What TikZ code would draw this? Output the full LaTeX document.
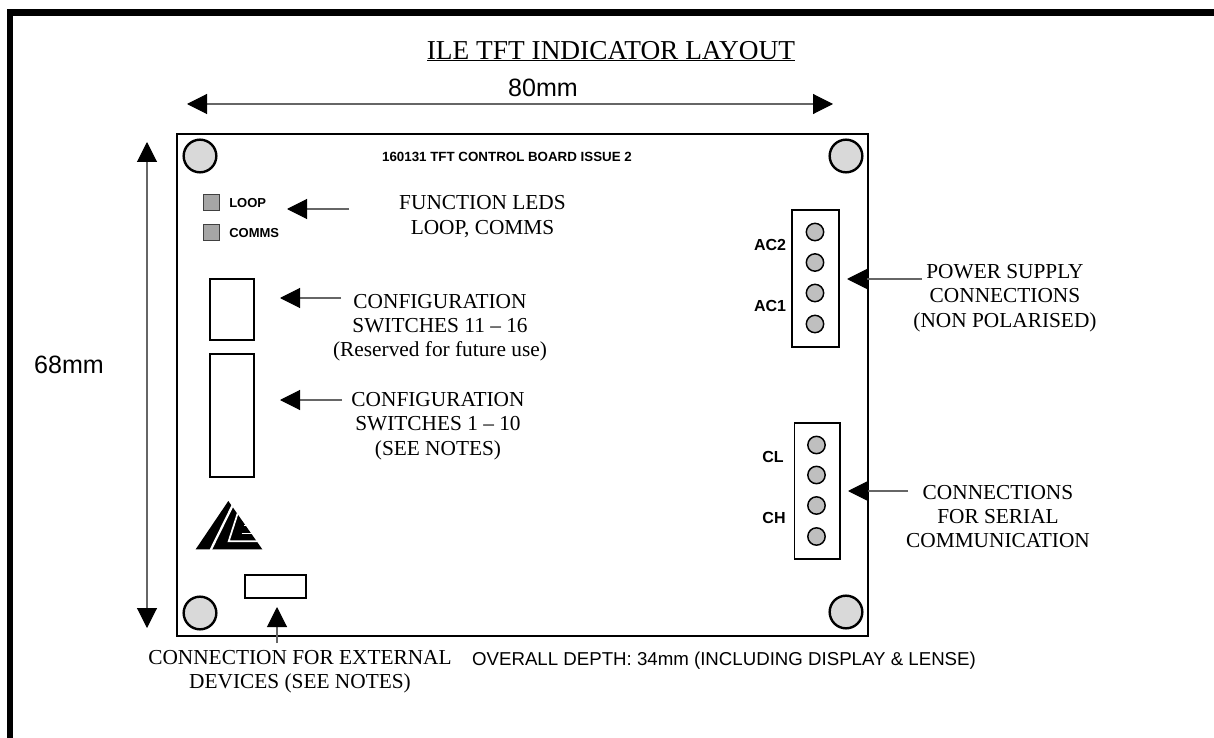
\documentclass[tikz,border=0pt]{standalone}
\usepackage{fontspec}
\setmainfont{Liberation Serif}
\setsansfont{Liberation Sans}
\usetikzlibrary{arrows.meta}
\newcommand{\fsz}[1]{\fontsize{#1}{18.2}\selectfont}
\tikzset{
  x=0.75pt,y=-0.75pt,
  hole/.style={circle,draw=black,line width=1.8pt,fill=black!15,minimum size=24.5pt,inner sep=0pt},
  pin/.style={circle,draw=black,line width=1.1pt,fill=black!25,minimum size=13pt,inner sep=0pt},
  led/.style={rectangle,draw=black!75,line width=0.6pt,fill=black!35,minimum size=12pt,inner sep=0pt},
  swbox/.style={draw=black,line width=1.1pt,fill=white},
  serif/.style={font=\rmfamily\fsz{16},align=center,inner sep=0pt,text=black},
  sansb/.style={font=\sffamily\bfseries\fsz{9.75},inner sep=0pt,anchor=west,text=black},
  sansm/.style={font=\sffamily\bfseries\fsz{12},inner sep=0pt,text=black},
  sansbig/.style={font=\sffamily\fsz{18.8},inner sep=0pt,text=black},
  arr/.style={draw=black!60,line width=0.8pt,-{Triangle[length=15pt,width=15pt,color=black]},shorten >=0pt},
  dimarr/.style={draw=black!60,line width=0.8pt,{Triangle[length=15pt,width=15pt,color=black]}-{Triangle[length=15pt,width=15pt,color=black]}},
}
\begin{document}
\begin{tikzpicture}
\useasboundingbox (0,0) rectangle (1214,738);
\begin{scope}
\clip (0,0) rectangle (1214,738);
\fill[white] (0,0) rectangle (1214,738);
\draw[line width=4.6pt,line join=miter] (10,760) -- (10,12.5) -- (1240,12.5);
\end{scope}
% title
\node[serif,font=\rmfamily\fsz{20.5}] (title) at (611,51) {ILE TFT INDICATOR LAYOUT};
\coordinate (ulA) at (427,60.5);
\coordinate (ulB) at (795,60.5);
\draw[line width=0.8pt] (ulA) -- (ulB);
% dims
\node[sansbig] (w) at (543,88) {80mm};
\coordinate (wL) at (187,104);
\coordinate (wR) at (833,104);
\draw[dimarr] (wL) -- (wR);
\node[sansbig] (h) at (69,365) {68mm};
\coordinate (hT) at (147,142);
\coordinate (hB) at (147,628);
\draw[dimarr] (hT) -- (hB);
% board
\node[rectangle,draw=black,line width=1.4pt,minimum width=518.25pt,minimum height=376.5pt,inner sep=0pt] (board) at (522.5,385) {};
\node[hole] (h1) at (200,156) {};
\node[hole] (h2) at (846,156) {};
\node[hole] (h3) at (200,613) {};
\node[hole] (h4) at (846,612) {};
\node[font=\sffamily\bfseries\fsz{10},inner sep=0pt] (btitle) at (507,157) {160131 TFT CONTROL BOARD ISSUE 2};
% LEDs
\node[led] (l1) at (211,202) {};
\node[led] (l2) at (211,232) {};
\node[sansb] (t1) at (229,203) {LOOP};
\node[sansb] (t2) at (229,233) {COMMS};
% switches
\draw[swbox] (210,279) rectangle (254,340);
\draw[swbox] (210,354) rectangle (254,477);
\draw[swbox] (245,575) rectangle (306,598);
% connectors
\draw[swbox] (792,210) rectangle (839,347);
\foreach \n/\y in {a/232,b/262.5,c/293,d/324} \node[pin] (p\n) at (815,\y) {};
\draw[swbox] (794.5,423) rectangle (840,559);
\foreach \n/\y in {e/445,f/475,g/505.5,i/536.5} \node[pin] (p\n) at (816.5,\y) {};
\node[sansm] (ac2) at (770,245) {AC2};
\node[sansm] (ac1) at (770,306) {AC1};
\node[sansm] (cl) at (773,457) {CL};
\node[sansm] (ch) at (774,518) {CH};
% logo
\begin{scope}[shift={(170,500)},x=0.25pt,y=-0.25pt]
\fill[black] (175,3) -- (277,148) -- (77,148) -- cycle;
\draw[white,line width=1.7pt] (188,16) -- (122,150);
\draw[white,line width=1.3pt] (203,40) -- (176,124) -- (262,124);
\draw[white,line width=1.0pt] (222,76) -- (240,76);
\draw[white,line width=1.0pt] (215,101) -- (248,101);
\end{scope}
% labels
\node[serif] (lab1) at (482.5,216.5) {FUNCTION LEDS\\LOOP, COMMS};
\node[serif] (lab2) at (440,327.5) {CONFIGURATION\\SWITCHES 11 -- 16\\(Reserved for future use)};
\node[serif] (lab3) at (438,426) {CONFIGURATION\\SWITCHES 1 -- 10\\(SEE NOTES)};
\node[serif] (lab4) at (1005,298) {POWER SUPPLY\\CONNECTIONS\\(NON POLARISED)};
\node[serif] (lab5) at (998,516.5) {CONNECTIONS\\FOR SERIAL\\COMMUNICATION};
\node[serif] (lab6) at (300,672) {CONNECTION FOR EXTERNAL\\DEVICES (SEE NOTES)};
\node[font=\sffamily\fsz{14},inner sep=0pt] (lab7) at (724,660.5) {OVERALL DEPTH: 34mm (INCLUDING DISPLAY \& LENSE)};
% arrows
\coordinate (a1s) at (349,209); \coordinate (a1e) at (287,209);
\coordinate (a2s) at (341,298); \coordinate (a2e) at (280,298);
\coordinate (a3s) at (342,400); \coordinate (a3e) at (280,400);
\coordinate (a4s) at (922,279); \coordinate (a4e) at (847,279);
\coordinate (a5s) at (908,491); \coordinate (a5e) at (848,491);
\coordinate (a6s) at (277,643); \coordinate (a6e) at (277,607);
\foreach \i in {1,...,6} \draw[arr] (a\i s) -- (a\i e);
\end{tikzpicture}
\end{document}
